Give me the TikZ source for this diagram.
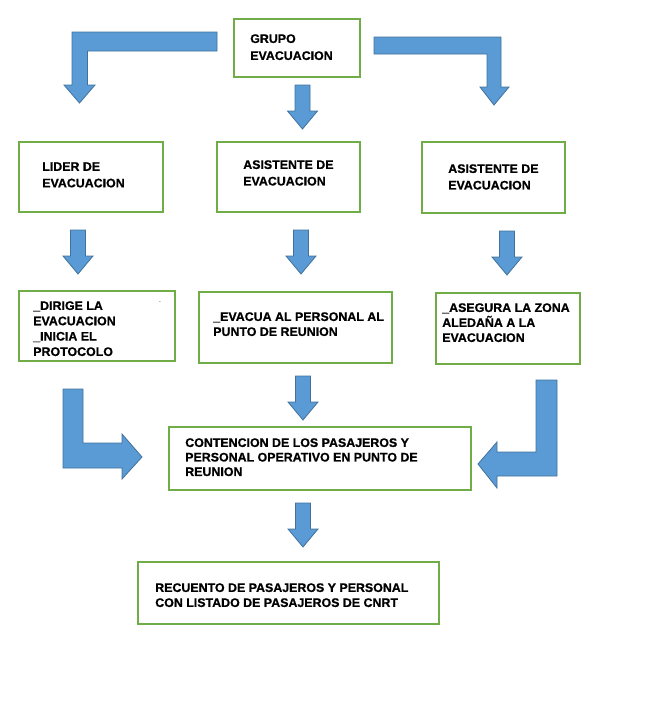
\documentclass[tikz,border=0pt]{standalone}
\usepackage{fontspec}
\setmainfont{Liberation Sans}[BoldFeatures={FakeBold=0.8}]
\usepackage{xcolor}
\usepackage{tikz}
\usetikzlibrary{positioning}

\definecolor{boxgreen}{HTML}{70AD47}
\definecolor{arrowblue}{HTML}{5B9BD5}
\definecolor{arrowedge}{HTML}{41719C}

\begin{document}
\begin{tikzpicture}[x=0.75pt, y=-0.75pt,
      box/.style={draw=boxgreen, line width=1.1pt, fill=white, inner sep=0pt,
                  outer sep=0pt, anchor=north west},
      txt/.style={anchor=north west, inner sep=0pt, align=left,
                  font=\fontsize{9.3}{#1}\selectfont\bfseries},
      txt/.default=11.4pt,
      blockarr/.style={fill=arrowblue, draw=arrowedge, line width=0.6pt,
                       line join=miter},
      downarr/.pic={
        \draw[blockarr] (-7.5,0) -- (7.5,0) -- (7.5,26) -- (15,26) -- (0,44)
          -- (-15,26) -- (-7.5,26) -- cycle;}
    ]
      \useasboundingbox (0,0) rectangle (648,715);

      % top
      \node[box, minimum width=94.5pt, minimum height=43.5pt] (grupo) at (234,19) {};
      \node[txt=12.75pt] (grupot) at (250,34) {GRUPO\\EVACUACION};

      % roles
      \node[box, minimum width=108pt, minimum height=52.5pt] (lider) at (19,142) {};
      \node[txt=12.4pt] (lidert) at (42,162) {LIDER DE\\EVACUACION};
      \node[box, minimum width=107.25pt, minimum height=52.5pt] (asist1) at (217,142) {};
      \node[txt=12.4pt] (asist1t) at (243,160) {ASISTENTE DE\\EVACUACION};
      \node[box, minimum width=107.25pt, minimum height=53.25pt] (asist2) at (422,142) {};
      \node[txt=12.4pt] (asist2t) at (448,164) {ASISTENTE DE\\EVACUACION};

      % tasks
      \node[box, minimum width=117pt, minimum height=52.5pt] (dirige) at (19,291) {};
      \node[txt=11.5pt] (diriget) at (33,301)
        {\_DIRIGE LA\\EVACUACION\\\_INICIA EL\\PROTOCOLO};
      \node[inner sep=0pt, font=\tiny] (punto) at (160,302) {.};
      \node[box, minimum width=144.75pt, minimum height=53.25pt] (evacua) at (199,292) {};
      \node[txt=11.25pt] (evacuat) at (213,312)
        {\_EVACUA AL PERSONAL AL\\PUNTO DE REUNION};
      \node[box, minimum width=108pt, minimum height=53.25pt] (asegura) at (436,293) {};
      \node[txt=11.25pt] (segurat) at (442,303)
        {\_ASEGURA LA ZONA\\ALEDAÑA A LA\\EVACUACION};

      % meeting point
      \node[box, minimum width=226.5pt, minimum height=47.25pt] (contencion) at (169,427) {};
      \node[txt=10.9pt] (contenciont) at (185,438)
        {CONTENCION DE LOS PASAJEROS Y\\PERSONAL OPERATIVO EN PUNTO DE\\REUNION};

      % count
      \node[box, minimum width=225.75pt, minimum height=46.5pt] (recuento) at (138,562) {};
      \node[txt=11.25pt] (recuentot) at (155,583)
        {RECUENTO DE PASAJEROS Y PERSONAL\\CON LISTADO DE PASAJEROS DE CNRT};

      % bent arrows
      \draw[blockarr] (217,32) -- (72,32) -- (72,85) -- (64,85) -- (79.5,103)
        -- (95,85) -- (87.5,85) -- (87.5,51) -- (217,51) -- cycle;
      \draw[blockarr] (374,37) -- (501,37) -- (501,87) -- (509,87) -- (494,105)
        -- (480,87) -- (487,87) -- (487,54) -- (374,54) -- cycle;
      \draw[blockarr] (63,389) -- (83,389) -- (83,443) -- (122,443) -- (122,434)
        -- (142,457) -- (122,479) -- (122,468) -- (63,468) -- cycle;
      \draw[blockarr] (536,380) -- (557,380) -- (557,476) -- (497,476) -- (497,488)
        -- (478,464) -- (497,442) -- (497,452) -- (536,452) -- cycle;

      % straight arrows
      \pic at (302.5,85) {downarr};
      \pic at (78,230) {downarr};
      \pic at (301,230) {downarr};
      \pic at (507,231) {downarr};
      \pic at (303,376) {downarr};
      \pic at (303,503) {downarr};
    \end{tikzpicture}
\end{document}
